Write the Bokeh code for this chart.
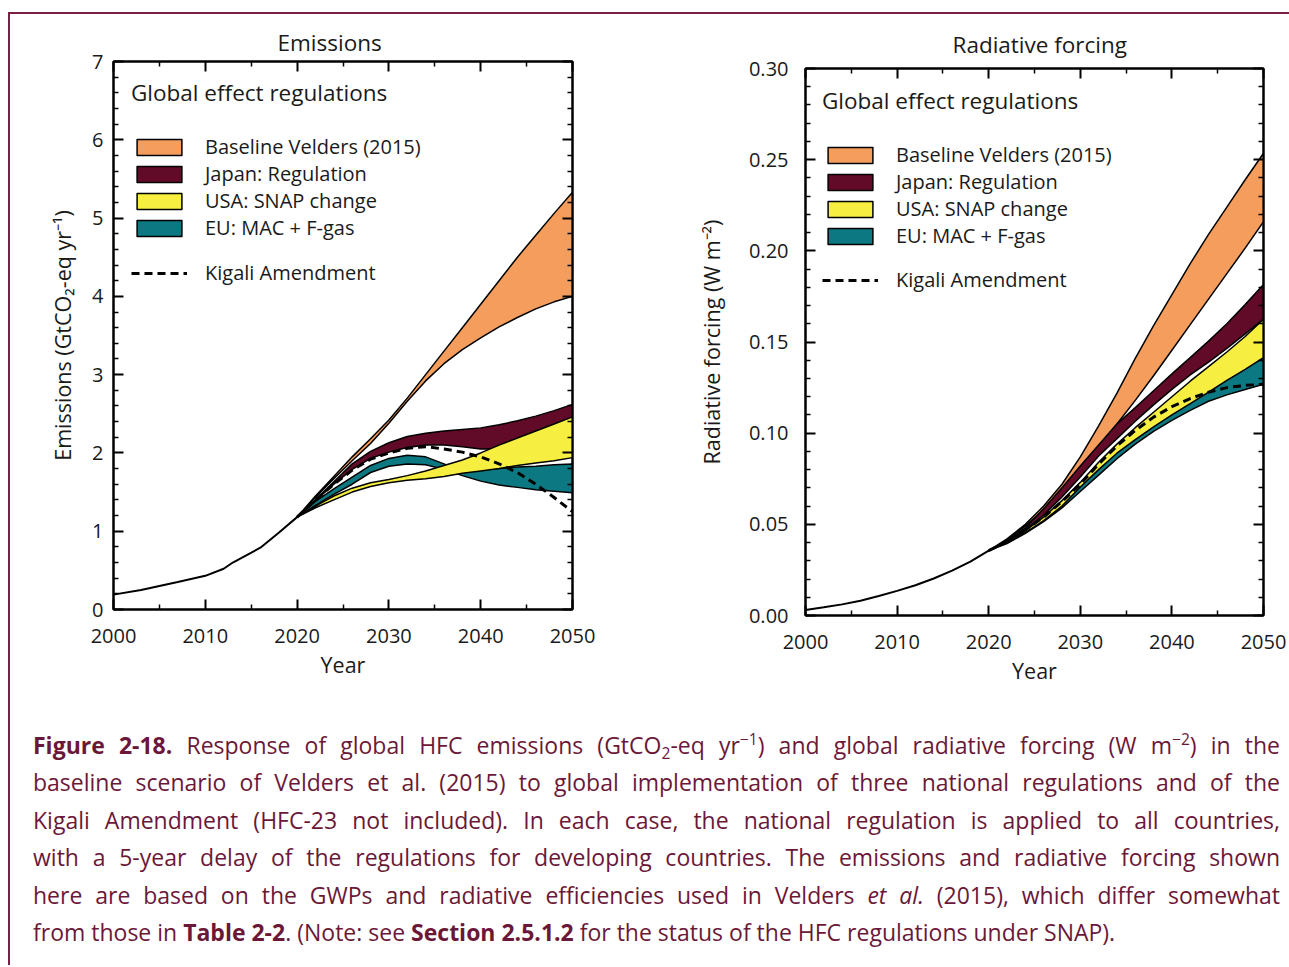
from bokeh.plotting import figure
from bokeh.models import (LinearAxis, FixedTicker, Legend, LegendItem, CustomLabelingPolicy,
                          Div, PrintfTickFormatter, Range1d)
from bokeh.layouts import column, row
from bokeh.embed import file_html
from bokeh.resources import INLINE

FONT = "Open Sans"
TXT = "#1a1a1a"
CAP = "#6b1838"

# ---------------- data: emissions (GtCO2-eq / yr) ----------------
hist_years = [2000, 2003, 2007, 2010, 2012, 2013, 2016, 2018, 2020]
hist_emis = [0.19, 0.25, 0.35, 0.43, 0.52, 0.60, 0.79, 0.98, 1.18]

scen_years = [2020, 2022, 2024, 2026, 2028, 2030, 2032, 2034,
              2036, 2038, 2040, 2042, 2044, 2046, 2048, 2050]
emis_base_high = [1.18, 1.45, 1.70, 1.95, 2.18, 2.42, 2.70, 3.00, 3.30, 3.60, 3.90, 4.20, 4.50, 4.78, 5.06, 5.33]
emis_base_low = [1.18, 1.43, 1.67, 1.90, 2.12, 2.38, 2.66, 2.92, 3.14, 3.32, 3.47, 3.61, 3.73, 3.84, 3.93, 4.00]
emis_japan_high = [1.18, 1.40, 1.63, 1.86, 2.02, 2.13, 2.21, 2.25, 2.28, 2.30, 2.32, 2.36, 2.41, 2.47, 2.54, 2.62]
emis_japan_low = [1.18, 1.39, 1.60, 1.79, 1.93, 2.01, 2.07, 2.10, 2.10, 2.08, 2.05, 2.05, 2.06, 2.08, 2.10, 2.12]
emis_usa_high = [1.18, 1.32, 1.45, 1.55, 1.62, 1.66, 1.71, 1.77, 1.84, 1.91, 2.00, 2.10, 2.19, 2.28, 2.37, 2.46]
emis_usa_low = [1.18, 1.30, 1.40, 1.50, 1.57, 1.62, 1.65, 1.67, 1.70, 1.74, 1.77, 1.80, 1.84, 1.87, 1.90, 1.94]
emis_eu_high = [1.18, 1.38, 1.54, 1.69, 1.84, 1.93, 1.97, 1.95, 1.86, 1.77, 1.79, 1.80, 1.82, 1.83, 1.85, 1.86]
emis_eu_low = [1.18, 1.33, 1.47, 1.60, 1.75, 1.83, 1.86, 1.85, 1.79, 1.71, 1.64, 1.59, 1.56, 1.53, 1.51, 1.49]
emis_kigali = [1.18, 1.40, 1.60, 1.78, 1.92, 2.00, 2.06, 2.08, 2.05, 2.01, 1.95, 1.86, 1.75, 1.60, 1.43, 1.25]

# ---------------- data: radiative forcing (W m-2) ----------------
rf_hist_years = [2000, 2002, 2004, 2006, 2008, 2010, 2012, 2014, 2016, 2018, 2020]
rf_hist = [0.0030, 0.0045, 0.0061, 0.0081, 0.0107, 0.0135, 0.0166, 0.0203, 0.0246, 0.0296, 0.0356]

rf_base_high = [0.0356, 0.042, 0.050, 0.060, 0.072, 0.087, 0.104, 0.122, 0.141, 0.159, 0.176, 0.193, 0.209, 0.224, 0.239, 0.2535]
rf_base_low = [0.0356, 0.0415, 0.049, 0.058, 0.069, 0.0805, 0.0925, 0.105, 0.118, 0.1315, 0.1455, 0.1595, 0.1735, 0.1875, 0.2015, 0.216]
rf_japan_high = [0.0356, 0.041, 0.048, 0.0585, 0.070, 0.082, 0.0935, 0.105, 0.114, 0.1233, 0.1325, 0.1414, 0.1505, 0.160, 0.1705, 0.1816]
rf_japan_low = [0.0356, 0.0405, 0.047, 0.055, 0.065, 0.076, 0.0875, 0.097, 0.1065, 0.1155, 0.124, 0.132, 0.139, 0.1465, 0.1545, 0.1625]
rf_usa_high = [0.0356, 0.040, 0.0465, 0.054, 0.063, 0.073, 0.084, 0.094, 0.103, 0.1115, 0.120, 0.1285, 0.1365, 0.1445, 0.153, 0.1625]
rf_usa_low = [0.0356, 0.0398, 0.0455, 0.052, 0.060, 0.0705, 0.080, 0.089, 0.0965, 0.1035, 0.110, 0.1162, 0.1225, 0.129, 0.135, 0.1414]
rf_eu_high = [0.0356, 0.040, 0.046, 0.053, 0.061, 0.0715, 0.081, 0.0905, 0.0985, 0.1055, 0.112, 0.118, 0.1245, 0.1305, 0.136, 0.1414]
rf_eu_low = [0.0356, 0.0395, 0.045, 0.0515, 0.059, 0.068, 0.077, 0.086, 0.094, 0.101, 0.107, 0.1125, 0.1175, 0.121, 0.124, 0.1268]
rf_kigali = [0.0356, 0.0405, 0.047, 0.054, 0.0625, 0.072, 0.083, 0.093, 0.1015, 0.1088, 0.1145, 0.119, 0.1225, 0.125, 0.1262, 0.1268]

band_labels = ["Baseline Velders (2015)", "Japan: Regulation", "USA: SNAP change", "EU: MAC + F-gas"]
band_colors = ["#F49D5C", "#620B28", "#F6EF42", "#0B7882"]
kigali_label = "Kigali Amendment"
legend_title = "Global effect regulations"

# tick positions
year_ticks = [2000, 2010, 2020, 2030, 2040, 2050]
year_minor = [2005, 2015, 2025, 2035, 2045]
emis_ticks = [0, 1, 2, 3, 4, 5, 6, 7]
emis_minor = [round(0.2 * i, 1) for i in range(36) if i % 5 != 0]
rf_ticks = [0.0, 0.05, 0.10, 0.15, 0.20, 0.25, 0.30]
rf_minor = [round(0.01 * i, 2) for i in range(31) if i % 5 != 0]


def build_panel(title, ylabel, y_end, yt, ym, yfmt, hist_x, hist_y, highs, lows, kig,
                width, height, mb_left, mb_right, mb_top, mb_bottom,
                title_standoff, title_offset, ylab_standoff, ylab_axis_standoff, leg_xy, kig_xy):
    p = figure(width=width, height=height, x_range=Range1d(2000, 2050), y_range=Range1d(0, y_end),
               output_backend="svg", toolbar_location=None, title=title,
               min_border_left=mb_left, min_border_right=mb_right,
               min_border_top=mb_top, min_border_bottom=mb_bottom, frame_align=False)
    p.background_fill_color = "white"
    p.border_fill_color = "white"
    p.outline_line_color = "black"
    p.outline_line_width = 2
    p.xgrid.visible = False
    p.ygrid.visible = False

    p.title.align = "left"
    p.title.offset = title_offset
    p.title.text_font = FONT
    p.title.text_font_size = "22.5px"
    p.title.text_font_style = "normal"
    p.title.text_color = TXT
    p.title.standoff = title_standoff

    def style_axis(ax, show):
        ax.axis_line_width = 2
        ax.axis_line_color = "black"
        ax.major_tick_in = 10
        ax.major_tick_out = 0
        ax.minor_tick_in = 5
        ax.minor_tick_out = 0
        ax.major_tick_line_width = 2
        ax.minor_tick_line_width = 1.5
        ax.major_tick_line_color = "black"
        ax.minor_tick_line_color = "black"
        if show:
            ax.major_label_text_font = FONT
            ax.major_label_text_font_size = "20px"
            ax.major_label_text_color = TXT
            ax.axis_label_text_font = FONT
            ax.axis_label_text_font_size = "21.5px"
            ax.axis_label_text_font_style = "normal"
            ax.axis_label_text_color = TXT
        else:
            ax.major_label_policy = CustomLabelingPolicy(code="return []")
            ax.major_label_text_font_size = "0px"
            ax.major_label_standoff = 0
            ax.axis_label = None

    xax = p.xaxis[0]
    xax.ticker = FixedTicker(ticks=year_ticks, minor_ticks=year_minor)
    xax.axis_label = "Year"
    xax.major_label_standoff = 19
    xax.axis_label_standoff = 4
    style_axis(xax, True)

    yax = p.yaxis[0]
    yax.ticker = FixedTicker(ticks=yt, minor_ticks=ym)
    yax.formatter = PrintfTickFormatter(format=yfmt)
    yax.axis_label = ylabel
    yax.major_label_standoff = ylab_standoff
    yax.axis_label_standoff = ylab_axis_standoff
    style_axis(yax, True)

    top = LinearAxis(ticker=FixedTicker(ticks=year_ticks, minor_ticks=year_minor))
    style_axis(top, False)
    p.add_layout(top, "above")
    right = LinearAxis(ticker=FixedTicker(ticks=yt, minor_ticks=ym))
    style_axis(right, False)
    p.add_layout(right, "right")

    # bands drawn in the order: baseline, Japan, EU, USA (yellow above teal)
    renderers = {}
    for idx in [0, 1, 3, 2]:
        up, lo = highs[idx], lows[idx]
        xs = scen_years + scen_years[::-1]
        ys = up + lo[::-1]
        renderers[idx] = p.patch(xs, ys, fill_color=band_colors[idx], line_color="black",
                                 line_width=1.5, line_join="round")

    p.line(hist_x, hist_y, line_color="black", line_width=2)
    rk = p.line(scen_years, kig, line_color="black", line_width=3, line_dash="8 5")

    leg = Legend(items=[LegendItem(label=band_labels[i], renderers=[renderers[i]]) for i in range(4)],
                 title=legend_title, location=leg_xy)
    leg2 = Legend(items=[LegendItem(label=kigali_label, renderers=[rk])], location=kig_xy)
    for lg in (leg, leg2):
        lg.label_text_font = FONT
        lg.label_text_font_size = "20px"
        lg.label_text_color = TXT
        lg.title_text_font = FONT
        lg.title_text_font_size = "22.5px"
        lg.title_text_font_style = "normal"
        lg.title_text_color = TXT
        lg.title_standoff = 25
        lg.glyph_width = 56
        lg.glyph_height = 20
        lg.label_standoff = 18
        lg.label_height = 20
        lg.spacing = 0
        lg.padding = 0
        lg.margin = 0
        lg.border_line_color = None
        lg.background_fill_alpha = 0
        p.add_layout(lg)
    return p


p1 = build_panel("Emissions", "Emissions (GtCO\u2082-eq yr\u207b\u00b9)", 7, emis_ticks, emis_minor, "%d",
                 hist_years, hist_emis,
                 [emis_base_high, emis_japan_high, emis_usa_high, emis_eu_high],
                 [emis_base_low, emis_japan_low, emis_usa_low, emis_eu_low],
                 emis_kigali,
                 680, 686, 103, 118, 47, 91, 8, 164, 10, 12, (18, 368), (18, 323))

p2 = build_panel("Radiative forcing", "Radiative forcing (W m\u207b\u00b2)", 0.30, rf_ticks, rf_minor, "%.2f",
                 rf_hist_years, rf_hist,
                 [rf_base_high, rf_japan_high, rf_usa_high, rf_eu_high],
                 [rf_base_low, rf_japan_low, rf_usa_low, rf_eu_low],
                 rf_kigali,
                 599, 686, 115, 26, 54, 85, 18, 147, 17, 20, (17, 366), (17, 322))

sub2 = '<span style="font-size:0.68em;position:relative;top:0.3em;line-height:0;">2</span>'
def sup(t):
    return '<span style="font-size:0.68em;position:relative;top:-0.55em;line-height:0;">' + t + '</span>'

cap_lines = [
    '<b>Figure 2-18.</b> Response of global HFC emissions (GtCO' + sub2 + '-eq yr' + sup('\u22121') +
    ') and global radiative forcing (W m' + sup('\u22122') + ') in the',
    'baseline scenario of Velders et al. (2015) to global implementation of three national regulations and of the',
    'Kigali Amendment (HFC-23 not included). In each case, the national regulation is applied to all countries,',
    'with a 5-year delay of the regulations for developing countries. The emissions and radiative forcing shown',
    'here are based on the GWPs and radiative efficiencies used in Velders <i>et al.</i> (2015), which differ somewhat',
    'from those in <b>Table 2-2</b>. (Note: see <b>Section 2.5.1.2</b> for the status of the HFC regulations under SNAP).',
]
html = ('<div style="font-family:\'Open Sans\';font-size:23px;color:%s;line-height:37.4px;'
        'box-sizing:border-box;width:1270px;padding:27px 0 0 23px;margin:0;">' % CAP)
for i, ln in enumerate(cap_lines):
    last = (i == len(cap_lines) - 1)
    html += ('<div style="text-align:%s;text-align-last:%s;">%s</div>'
             % ("left" if last else "justify", "left" if last else "justify", ln))
html += '</div>'

cap = Div(text=html, width=1279, height=265, margin=0)

layout = column(row(p1, p2), cap,
                styles={"border-top": "2px solid #7a1f45", "border-left": "2px solid #7a1f45",
                        "margin-top": "12px", "margin-left": "8px"})

open("out.html", "w").write(file_html(layout, INLINE))
